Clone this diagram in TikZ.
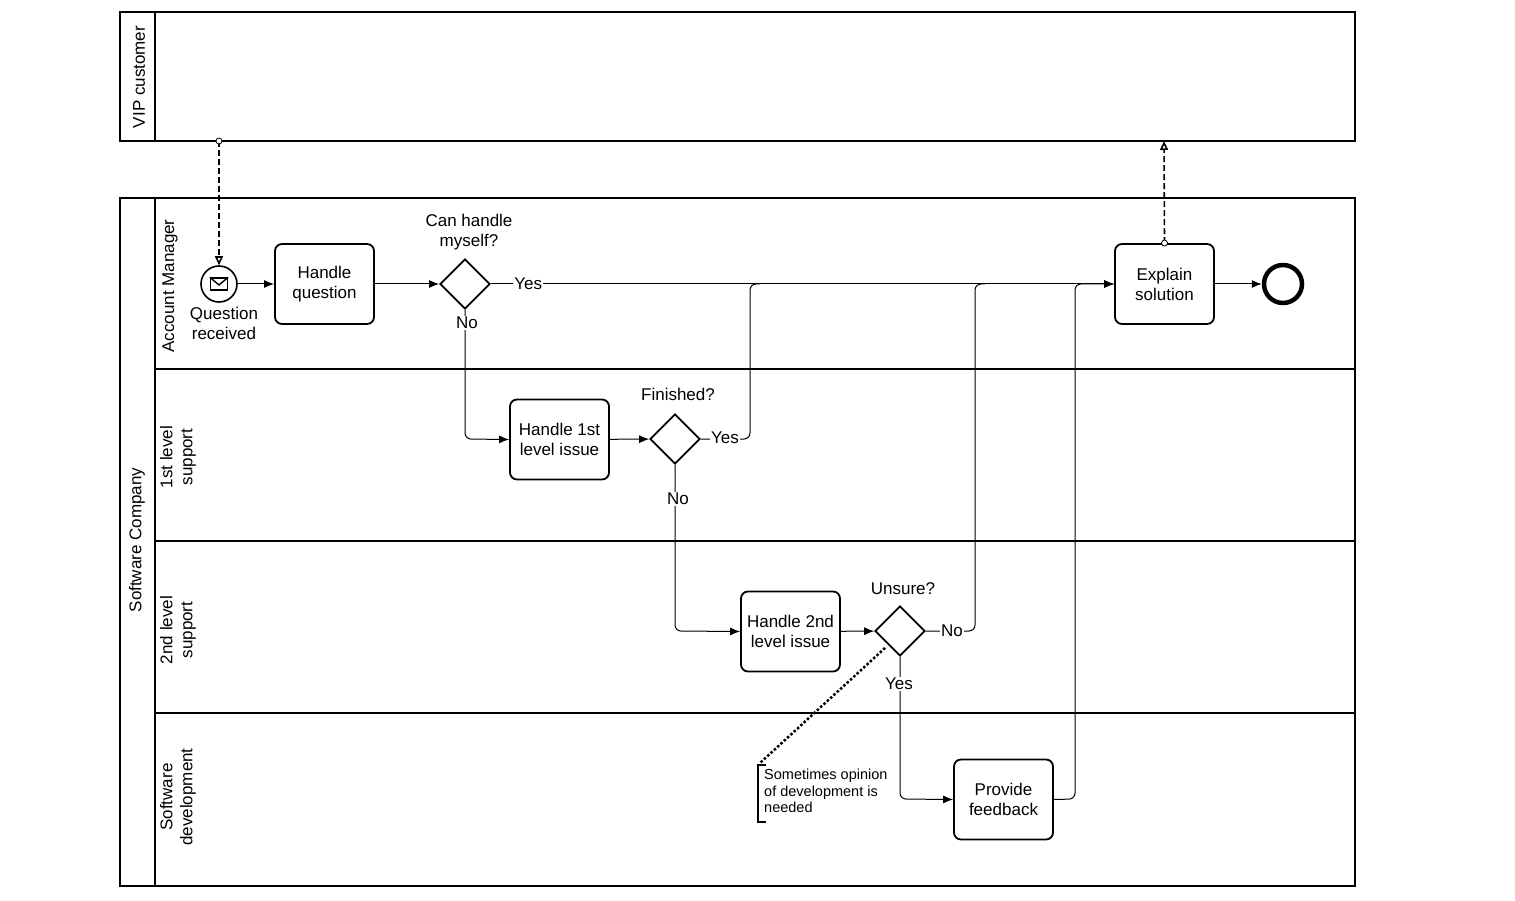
\documentclass[tikz,border=0pt]{standalone}
\usepackage{fontspec}
\setmainfont{Liberation Sans}
\usetikzlibrary{arrows.meta,positioning,shapes.geometric}

\begin{document}
\begin{tikzpicture}[x=1pt, y=-1pt,
    task/.style={rectangle, rounded corners=7pt, draw, line width=1.8pt, minimum width=99pt,
        minimum height=80pt, align=center, font=\fontsize{17}{20}\selectfont},
    gateway/.style={diamond, draw, line width=1.8pt, minimum width=50pt, minimum height=50pt, inner sep=0pt},
    lbl/.style={font=\fontsize{17}{20}\selectfont, align=center, inner sep=1pt},
    flow/.style={-{Latex[length=10pt,width=8pt]}, rounded corners=6pt, line width=1pt},
    msg/.style={line width=1.6pt, dash pattern=on 6pt off 3pt},
    lane/.style={line width=1.8pt}
]
    \useasboundingbox (0,0) rectangle (1515,901);

    % pools and lanes
    \draw[lane] (120,12) rectangle (1355,141);
    \draw[lane] (155,12) -- (155,141);
    \draw[lane] (120,198) rectangle (1355,886);
    \draw[lane] (155,198) -- (155,886);
    \foreach \y in {369,541,713}
        \draw[lane] (155,\y) -- (1355,\y);

    \node (vip_customer) [lbl, rotate=90] at (139,77) {VIP customer};
    \node (software_company) [lbl, rotate=90] at (137,540) {Software Company};
    \node (account_manager) [lbl, rotate=90] at (170,286) {Account Manager};
    \node (first_level) [lbl, rotate=90] at (178,457) {1st level\\support};
    \node (second_level) [lbl, rotate=90] at (178,630) {2nd level\\support};
    \node (software_dev) [lbl, rotate=90] at (178,797) {Software\\development};

    % events
    \node (question_received) [circle, draw, line width=1.6pt, minimum size=36pt] at (219,284) {};
    \node (envelope) [rectangle, draw, line width=1.4pt, minimum width=17pt, minimum height=12pt, inner sep=0pt] at (219,284) {};
    \draw[line width=1.4pt] (envelope.north west) -- (219,285) -- (envelope.north east);
    \node (question_received_lbl) [lbl] at (224,323) {Question\\received};
    \node (end_event) [circle, draw, line width=4.5pt, minimum size=38pt] at (1283,284) {};

    % tasks
    \node (handle_question) [task] at (324.5,284) {Handle\\question};
    \node (explain_solution) [task] at (1164.5,284) {Explain\\solution};
    \node (handle_first) [task] at (559.5,439.5) {Handle 1st\\level issue};
    \node (handle_second) [task] at (790.5,631.5) {Handle 2nd\\level issue};
    \node (provide_feedback) [task] at (1003.5,799.5) {Provide\\feedback};

    % gateways
    \node (can_handle) [gateway] at (465,284) {};
    \node (finished) [gateway] at (675,439) {};
    \node (unsure) [gateway] at (900,631) {};
    \node (can_handle_lbl) [lbl] at (469,232) {Can handle\\myself?};
    \node (finished_lbl) [lbl] at (678,394) {Finished?};
    \node (unsure_lbl) [lbl] at (903,589) {Unsure?};

    % sequence flows
    \draw[flow] (question_received) -- (handle_question);
    \draw[flow] (handle_question) -- (can_handle);
    \draw[flow] (can_handle) -- node[lbl, fill=white, pos=0.06] {Yes} (explain_solution);
    \draw[flow] (explain_solution) -- (end_event);
    \draw[flow] (can_handle.south) -- (465,439) -- (handle_first.west);
    \node (no_one) [lbl, fill=white] at (467,323) {No};
    \draw[flow] (handle_first) -- (finished);
    \draw[line width=1pt, rounded corners=6pt] (finished.east) -- (750,439) -- (750,284) -- (760,284);
    \node (yes_two) [lbl, fill=white] at (725,438) {Yes};
    \draw[flow] (finished.south) -- (675,631) -- (handle_second.west);
    \node (no_two) [lbl, fill=white] at (678,499) {No};
    \draw[flow] (handle_second) -- (unsure);
    \draw[line width=1pt, rounded corners=6pt] (unsure.east) -- (975,631) -- (975,284) -- (985,284);
    \node (no_three) [lbl, fill=white] at (952,631) {No};
    \draw[flow] (unsure.south) -- (900,799) -- (provide_feedback.west);
    \node (yes_three) [lbl, fill=white] at (899,684) {Yes};
    \draw[flow] (provide_feedback.east) -- (1075,799) -- (1075,284) -- (explain_solution.west);

    % message flows
    \coordinate (vip_bottom_left) at (219,141);
    \coordinate (vip_bottom_right) at (1164,141);
    \draw[msg, -{Triangle[open,length=9pt,width=8pt]}] (vip_bottom_left) -- (question_received.north);
    \fill[white] (vip_bottom_left) circle (3pt);
    \draw[thick] (vip_bottom_left) circle (3pt);
    \draw[msg, -{Triangle[open,length=9pt,width=8pt]}] (explain_solution.north) -- (vip_bottom_right);
    \fill[white] (explain_solution.north) circle (3pt);
    \draw[thick] (explain_solution.north) circle (3pt);

    % annotation
    \node (annotation) [font=\fontsize{14.5}{16.5}\selectfont, align=left, anchor=north west, inner sep=2pt] at (762,767)
        {Sometimes opinion\\of development is\\needed};
    \draw[line width=1.4pt] (766,765) -- (758,765) -- (758,822) -- (766,822);
    \draw[line width=2.5pt, dotted] (unsure.south west) ++(-2,4) -- (760,763);
\end{tikzpicture}
\end{document}
